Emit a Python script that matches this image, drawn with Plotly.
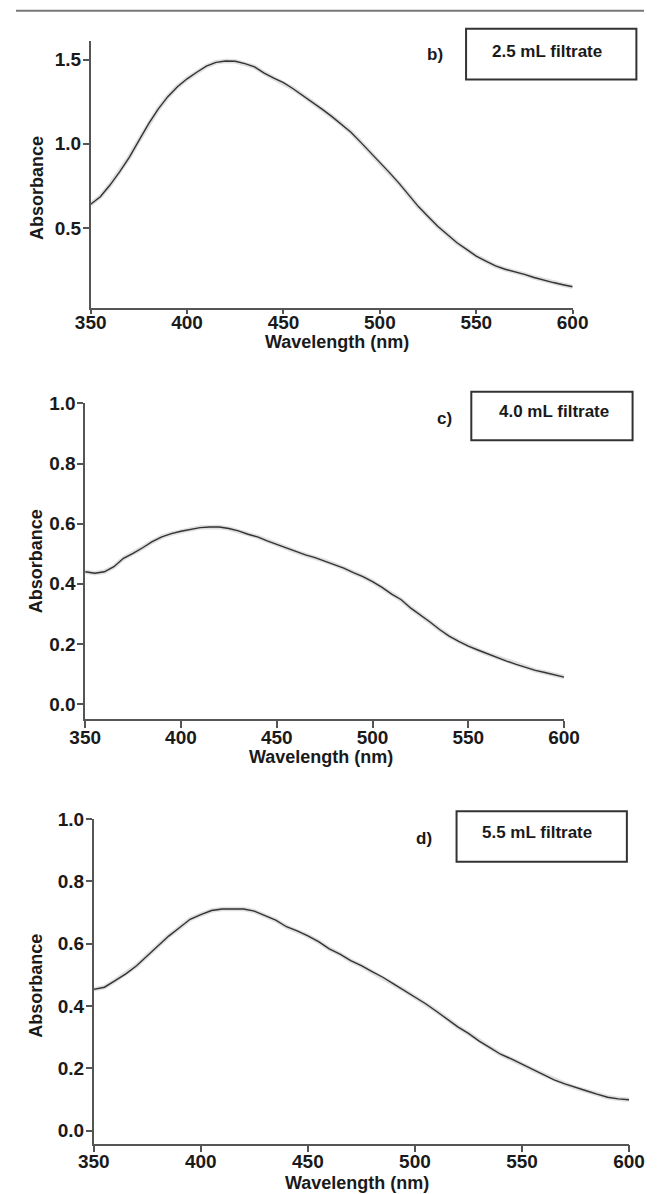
import plotly.graph_objects as go

W, H = 660, 1194

wavelength = list(range(350, 601, 5))

abs_b = [0.641, 0.686, 0.755, 0.833, 0.920, 1.020, 1.118, 1.206, 1.280, 1.339,
         1.386, 1.425, 1.461, 1.484, 1.492, 1.490, 1.476, 1.457, 1.420, 1.390,
         1.363, 1.327, 1.288, 1.249, 1.206, 1.163, 1.118, 1.069, 1.010, 0.951,
         0.892, 0.829, 0.765, 0.696, 0.627, 0.569, 0.510, 0.461, 0.412, 0.373,
         0.333, 0.304, 0.275, 0.255, 0.241, 0.225, 0.206, 0.190, 0.176, 0.163,
         0.151]

abs_c = [0.440, 0.435, 0.440, 0.457, 0.485, 0.501, 0.520, 0.540, 0.556, 0.567,
         0.575, 0.581, 0.587, 0.589, 0.589, 0.584, 0.576, 0.565, 0.556, 0.543,
         0.531, 0.520, 0.507, 0.496, 0.487, 0.476, 0.465, 0.452, 0.437, 0.424,
         0.407, 0.388, 0.366, 0.347, 0.319, 0.297, 0.273, 0.248, 0.226, 0.209,
         0.193, 0.180, 0.167, 0.156, 0.143, 0.132, 0.121, 0.112, 0.105, 0.097,
         0.090]

abs_d = [0.453, 0.460, 0.481, 0.503, 0.529, 0.561, 0.593, 0.624, 0.651, 0.678,
         0.693, 0.706, 0.711, 0.711, 0.711, 0.704, 0.690, 0.675, 0.654, 0.641,
         0.625, 0.606, 0.583, 0.566, 0.545, 0.529, 0.510, 0.492, 0.471, 0.450,
         0.428, 0.407, 0.383, 0.359, 0.333, 0.312, 0.287, 0.266, 0.245, 0.230,
         0.213, 0.195, 0.179, 0.163, 0.150, 0.138, 0.128, 0.117, 0.107, 0.102,
         0.099]

x_ticks = [350, 400, 450, 500, 550, 600]
y_ticks_b = [0.5, 1.0, 1.5]
y_ticks_cd = [0.0, 0.2, 0.4, 0.6, 0.8, 1.0]

panel_letters = ["b)", "c)", "d)"]
box_labels = ["2.5 mL filtrate", "4.0 mL filtrate", "5.5 mL filtrate"]
x_title = "Wavelength (nm)"
y_title = "Absorbance"

# pixel geometry of each panel: (x_left, x_right, y_top, y_bottom)
panels = [
    dict(px=(78.5, 585.0, 31.7, 300.5), yr=(0.025, 1.608), yt=y_ticks_b, data=abs_b, xtl=4, xso=-8,
         box=(473, 652, 19, 70), txt=(558, 42), let=(440, 45), ytitle=(21.5, 179), xtitle=(337, 335)),
    dict(px=(72.7, 576.0, 396.7, 715.0), yr=(-0.0495, 1.0), yt=y_ticks_cd, data=abs_c, xtl=7, xso=-7,
         box=(478.5, 648, 385, 434), txt=(565, 405), let=(450, 412), ytitle=(21, 556), xtitle=(320.5, 753)),
    dict(px=(81.7, 644.3, 815.7, 1143.3), yr=(-0.042, 1.0), yt=y_ticks_cd, data=abs_d, xtl=7, xso=-7,
         box=(463, 642, 808, 859), txt=(548, 829), let=(429, 836), ytitle=(21, 984), xtitle=(358, 1183)),
]

def fx(p):
    return p / W

def fy(p):
    return 1 - p / H

FONT = "Liberation Sans, Arial, sans-serif"
TXT = "#1a1a1a"
AX = "#555555"

fig = go.Figure()
layout = dict(width=W, height=H, margin=dict(l=0, r=0, t=0, b=0), autosize=False,
              paper_bgcolor="white", plot_bgcolor="white", showlegend=False)
annotations = []
shapes = []

for i, p in enumerate(panels):
    n = "" if i == 0 else str(i + 1)
    xl, xr, yt_, yb = p["px"]
    layout["xaxis" + n] = dict(
        domain=[fx(xl), fx(xr)], range=[350, 600], anchor="y" + n,
        tickvals=x_ticks, ticks="outside", ticklen=p["xtl"], tickwidth=1.5, tickcolor=AX,
        ticklabelstandoff=p["xso"],
        showline=True, linecolor=AX, linewidth=1.5, showgrid=False, zeroline=False,
        tickfont=dict(family=FONT, size=19, color=TXT, weight="bold"),
    )
    layout["yaxis" + n] = dict(
        domain=[fy(yb), fy(yt_)], range=list(p["yr"]), anchor="x" + n,
        tickvals=p["yt"], tickformat=".1f", ticks="outside", ticklen=6, tickwidth=1.5,
        ticklabelstandoff=-2,
        tickcolor=AX, showline=True, linecolor=AX, linewidth=1.5, showgrid=False,
        zeroline=False, tickfont=dict(family=FONT, size=19, color=TXT, weight="bold"),
    )
    # soft halo under the trace
    fig.add_trace(go.Scatter(x=wavelength, y=p["data"], mode="lines",
                             line=dict(color="rgba(150,150,150,0.3)", width=4.5),
                             xaxis="x" + n, yaxis="y" + n, hoverinfo="skip"))
    fig.add_trace(go.Scatter(x=wavelength, y=p["data"], mode="lines",
                             line=dict(color="#333333", width=1.4),
                             xaxis="x" + n, yaxis="y" + n))
    bx0, bx1, by0, by1 = p["box"]
    shapes.append(dict(type="rect", xref="paper", yref="paper",
                       x0=fx(bx0), x1=fx(bx1), y0=fy(by1), y1=fy(by0),
                       line=dict(color="#333333", width=2), fillcolor="white", layer="below"))
    annotations.append(dict(x=fx(p["txt"][0]), y=fy(p["txt"][1]), xref="paper", yref="paper",
                            text=box_labels[i], showarrow=False, xanchor="center", yanchor="middle",
                            font=dict(family=FONT, size=17, color=TXT, weight="bold")))
    annotations.append(dict(x=fx(p["let"][0]), y=fy(p["let"][1]), xref="paper", yref="paper",
                            text=panel_letters[i], showarrow=False, xanchor="center", yanchor="middle",
                            font=dict(family=FONT, size=17, color=TXT, weight="bold")))
    annotations.append(dict(x=fx(p["ytitle"][0]), y=fy(p["ytitle"][1]), xref="paper", yref="paper",
                            text=y_title, showarrow=False, textangle=-90, xanchor="center", yanchor="middle",
                            font=dict(family=FONT, size=18, color=TXT, weight="bold")))
    annotations.append(dict(x=fx(p["xtitle"][0]), y=fy(p["xtitle"][1]), xref="paper", yref="paper",
                            text=x_title, showarrow=False, xanchor="center", yanchor="middle",
                            font=dict(family=FONT, size=18, color=TXT, weight="bold")))

# thin gray rule along the top edge
shapes.append(dict(type="line", xref="paper", yref="paper", x0=0, x1=1, y0=fy(0.8), y1=fy(0.8),
                   line=dict(color="#777777", width=2)))

layout["annotations"] = annotations
layout["shapes"] = shapes
fig.update_layout(**layout)
fig.write_html("out.html")
